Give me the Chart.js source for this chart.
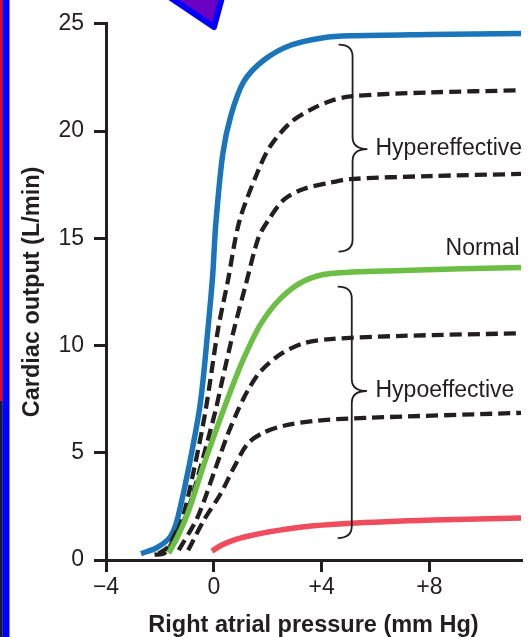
<!DOCTYPE html>
<html>
<head>
<meta charset="utf-8">
<script src="https://cdn.jsdelivr.net/npm/chart.js@4/dist/chart.umd.min.js"></script>
<style>
  html, body { margin: 0; padding: 0; background: #fff; }
  #wrap { position: relative; width: 531px; height: 637px; overflow: hidden; }
  #c { position: absolute; left: 0; top: 0; }
  #deco { position: absolute; left: 0; top: 0; pointer-events: none; }
</style>
</head>
<body>
<div id="wrap">
  <canvas id="c" width="531" height="637"></canvas>
  <svg id="deco" width="531" height="637">
    <rect x="0" y="0" width="2.2" height="401" fill="#ff0000"/>
    <rect x="0" y="401" width="2.2" height="236" fill="#1c1c1c"/>
    <rect x="2.2" y="0" width="7.3" height="637" fill="#0000ff"/>
    <polygon points="159,-10 214,27 224,-10" fill="#6b00c4" stroke="#0000ff" stroke-width="6" stroke-linejoin="round"/>
  </svg>
</div>
<script>
// ---- data ----
const xTicks = [-4, 0, 4, 8];
const xTickLabels = ['\u22124', '0', '+4', '+8'];
const yTicks = [0, 5, 10, 15, 20, 25];
const yTickLabels = ['0', '5', '10', '15', '20', '25'];

const blueCurve = [
  [-2.7, 0.3], [-2.15, 0.55], [-1.7, 0.95], [-1.5, 1.35], [-1.33, 2.0], [-0.93, 4.3],
  [-0.5, 7.3], [-0.2, 11.0], [-0.04, 13.3], [0.07, 15.6], [0.33, 18.9], [0.63, 20.7],
  [1.11, 22.3], [1.85, 23.3], [2.85, 24.0], [4.07, 24.35], [5.07, 24.44], [8.0, 24.5], [11.4, 24.55]
];
const hyperDash1 = [
  [-2.2, 0.25], [-1.85, 0.3], [-1.55, 0.8], [-1.15, 2.0], [-0.72, 4.3], [-0.3, 7.0],
  [0.15, 10.7], [0.52, 13.0], [0.95, 15.8], [1.63, 18.1], [2.1, 19.3], [2.85, 20.4],
  [3.6, 21.0], [4.33, 21.4], [5.07, 21.62], [8.0, 21.8], [11.4, 21.9]
];
const hyperDash2 = [
  [-2.05, 0.3], [-1.7, 0.6], [-1.4, 1.3], [-1.05, 2.0], [-0.5, 4.3], [0.07, 7.0],
  [0.3, 8.3], [0.74, 10.7], [1.2, 12.9], [1.65, 15.0], [2.0, 15.8], [2.6, 16.8],
  [3.33, 17.3], [4.33, 17.6], [5.07, 17.76], [8.0, 17.9], [11.4, 18.0]
];
const normalCurve = [
  [-1.67, 0.32], [-1.3, 1.2], [-0.93, 2.3], [-0.41, 4.3], [0.1, 6.1], [0.63, 7.9],
  [1.11, 9.4], [1.74, 11.0], [2.48, 12.2], [3.33, 13.0], [4.33, 13.36], [7.0, 13.5], [11.4, 13.64]
];
const hypoDash1 = [
  [-1.3, 0.46], [-0.6, 2.0], [0.07, 4.3], [0.5, 5.8], [0.89, 6.96], [1.26, 7.9],
  [1.74, 8.8], [2.48, 9.6], [3.33, 10.1], [4.33, 10.3], [7.0, 10.45], [11.4, 10.57]
];
const hypoDash2 = [
  [-0.95, 0.45], [-0.37, 1.85], [0.26, 3.1], [0.74, 4.3], [1.26, 5.43], [1.85, 5.94],
  [2.6, 6.26], [3.85, 6.5], [5.7, 6.63], [11.4, 6.86]
];
const redCurve = [
  [-0.07, 0.42], [0.3, 0.7], [0.74, 0.93], [1.3, 1.12], [2.0, 1.3], [3.2, 1.53], [4.96, 1.7], [8.15, 1.86], [11.4, 1.96]
];

const labelTexts = ['Hypereffective', 'Normal', 'Hypoeffective'];

// ---- styling / annotation geometry (data units) ----
const INK = '#231f20';
const FAM = '"Liberation Sans", Arial, Helvetica, sans-serif';
const braces = [
  { x: 5.15, hook: 4.63, tip: 5.7, top: 24.03, bottom: 14.38, mid: 19.16 },
  { x: 5.12, hook: 4.6, tip: 5.68, top: 12.75, bottom: 1.02, mid: 7.88 }
];
const labelPos = [
  { x: 6.0, y: 19.16, align: 'left' },
  { x: 11.35, y: 14.5, align: 'right' },
  { x: 6.0, y: 7.88, align: 'left' }
];

const toPts = arr => arr.map(p => ({ x: p[0], y: p[1] }));
const solid = (data, color) => ({ data: toPts(data), borderColor: color, borderWidth: 5.5, showLine: true, pointRadius: 0, fill: false, tension: 0.3 });
const dashed = data => ({ data: toPts(data), borderColor: INK, borderWidth: 4.3, borderDash: [12, 6], showLine: true, pointRadius: 0, fill: false, tension: 0.3 });

const annot = {
  id: 'annot',
  afterDatasetsDraw(chart) {
    const { ctx, scales: { x, y } } = chart;
    ctx.save();
    ctx.strokeStyle = INK;
    ctx.lineWidth = 1.8;
    braces.forEach(b => {
      const vx = x.getPixelForValue(b.x), hx = x.getPixelForValue(b.hook), tx = x.getPixelForValue(b.tip);
      const t = y.getPixelForValue(b.top), bt = y.getPixelForValue(b.bottom), m = y.getPixelForValue(b.mid);
      const r = 12;
      ctx.beginPath();
      ctx.moveTo(hx, t);
      ctx.quadraticCurveTo(vx, t, vx, t + r);
      ctx.lineTo(vx, m - r);
      ctx.quadraticCurveTo(vx, m, tx, m);
      ctx.quadraticCurveTo(vx, m, vx, m + r);
      ctx.lineTo(vx, bt - r);
      ctx.quadraticCurveTo(vx, bt, hx, bt);
      ctx.stroke();
    });
    ctx.fillStyle = INK;
    ctx.font = '23px ' + FAM;
    ctx.textBaseline = 'middle';
    labelTexts.forEach((txt, i) => {
      const p = labelPos[i];
      ctx.textAlign = p.align;
      ctx.fillText(txt, x.getPixelForValue(p.x), y.getPixelForValue(p.y));
    });
    ctx.restore();
  }
};

new Chart(document.getElementById('c'), {
  type: 'scatter',
  data: {
    datasets: [
      solid(redCurve, '#ef4d5e'),
      dashed(hypoDash2),
      dashed(hypoDash1),
      solid(normalCurve, '#6cbe45'),
      dashed(hyperDash2),
      dashed(hyperDash1),
      solid(blueCurve, '#1b75bb')
    ]
  },
  options: {
    responsive: false,
    animation: false,
    layout: { padding: { left: 0, right: 10, top: 21, bottom: 0 } },
    plugins: { legend: { display: false }, tooltip: { enabled: false } },
    elements: { line: { borderCapStyle: 'butt', borderJoinStyle: 'round' }, point: { radius: 0 } },
    scales: {
      x: {
        type: 'linear', min: -4, max: 11.4,
        afterBuildTicks: s => { s.ticks = xTicks.map(v => ({ value: v })); },
        afterFit: s => { s.height = 77; },
        ticks: {
          autoSkip: false, maxRotation: 0, padding: 2, color: INK,
          font: { size: 23, family: FAM },
          callback: v => xTickLabels[xTicks.indexOf(v)]
        },
        grid: { display: true, drawOnChartArea: false, drawTicks: true, tickLength: 12, lineWidth: 3, color: INK },
        border: { display: true, width: 3, color: INK },
        title: { display: true, text: 'Right atrial pressure (mm Hg)', color: INK, padding: 0,
                 font: { size: 23.5, weight: 'bold', family: FAM, lineHeight: 1 } }
      },
      y: {
        type: 'linear', min: 0, max: 25,
        afterBuildTicks: s => { s.ticks = yTicks.map(v => ({ value: v })); },
        afterFit: s => { s.width = 106; },
        ticks: {
          autoSkip: false, padding: 10, color: INK,
          font: { size: 23, family: FAM },
          callback: v => yTickLabels[yTicks.indexOf(v)]
        },
        grid: { display: true, drawOnChartArea: false, drawTicks: true, tickLength: 12, lineWidth: 3, color: INK },
        border: { display: true, width: 3, color: INK },
        title: { display: true, text: 'Cardiac output (L/min)', color: INK, padding: { top: 21, bottom: 0 },
                 font: { size: 23.5, weight: 'bold', family: FAM, lineHeight: 1 } }
      }
    }
  },
  plugins: [annot]
});
</script>
</body>
</html>
